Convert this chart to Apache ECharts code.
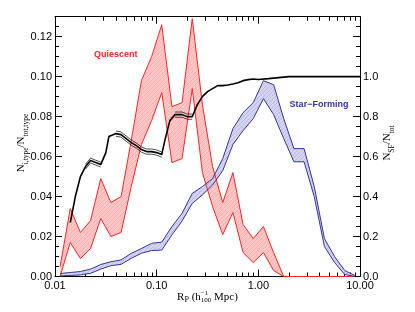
<!DOCTYPE html>
<html><head><meta charset="utf-8">
<script src="https://cdn.jsdelivr.net/npm/echarts@6/dist/echarts.min.js"></script>
<style>html,body{margin:0;padding:0;background:#fff}#c{width:415px;height:312px}</style>
</head><body><div id="c"></div>
<script>
// ---- data ----
const rp = [0.01122,0.01413,0.01778,0.02239,0.02818,0.03548,0.04467,0.05623,0.07079,0.08913,
            0.1122,0.1413,0.1778,0.2239,0.2818,0.3548,0.4467,0.5623,0.7079,0.8913,
            1.122,1.413,1.778,2.239,2.818,3.548,4.467,5.623,7.079,8.913];
const quiHi = [0.005,0.034,0.022,0.028,0.049,0.037,0.040,0.068,0.098,0.110,
               0.126,0.085,0.087,0.129,0.086,0.055,0.037,0.052,0.026,0.019,
               0.025,0.012,0,0,0,0,0,0,0,0];
const quiLo = [0.000,0.017,0.009,0.014,0.029,0.020,0.022,0.045,0.066,0.078,
               0.092,0.057,0.059,0.094,0.052,0.035,0.021,0.032,0.012,0.007,
               0.012,0.003,0,0,0,0,0,0,0,0];
const sfHi = [0.0015,0.0020,0.0025,0.0037,0.0060,0.0074,0.0083,0.0116,0.0140,0.0166,
              0.0172,0.0250,0.0316,0.0416,0.0450,0.0490,0.0590,0.0740,0.0820,0.0870,
              0.0980,0.0960,0.0790,0.0640,0.0640,0.0450,0.0190,0.0100,0.0030,0.0005];
const sfLo = [0.0003,0.0005,0.0008,0.0016,0.0037,0.0054,0.0061,0.0091,0.0116,0.0130,
              0.0132,0.0208,0.0278,0.0366,0.0408,0.0458,0.0530,0.0660,0.0730,0.0790,
              0.0890,0.0810,0.0690,0.0574,0.0574,0.0400,0.0150,0.0070,0.0010,0.0000];
const fracR = [0.01413,0.01585,0.01778,0.01995,0.02239,0.02512,0.02818,0.03162,0.03388,0.03981,
               0.04467,0.05012,0.05623,0.06310,0.07079,0.07943,0.08913,0.1000,0.1122,0.1202,
               0.1349,0.1514,0.1778,0.1995,0.2239,0.2512,0.2818,0.3162,0.3548,0.3981,
               0.4467,0.5012,0.5623,0.6310,0.7079,0.7943,0.8913,1.000,1.259,1.585,1.995,10.0];
const fracSF = [0.27,0.40,0.50,0.55,0.58,0.57,0.56,0.62,0.70,0.715,
                0.71,0.69,0.67,0.655,0.635,0.625,0.625,0.62,0.61,0.68,
                0.78,0.81,0.81,0.80,0.80,0.86,0.90,0.925,0.94,0.955,
                0.955,0.958,0.963,0.97,0.98,0.985,0.988,0.986,0.99,0.995,1.0,1.0];
// thin error tube around the fraction curve (null where not drawn)
const fracHi = [null,null,null,0.562,0.592,0.582,0.572,null,null,0.728,
                0.723,0.703,0.683,0.668,0.648,0.638,0.638,0.633,0.623,null,
                null,0.823,0.823,0.813,0.813,null,null,null,null,null,
                null,null,null,null,null,null,null,null,null,null,null,null];
const fracLo = [null,null,null,0.538,0.568,0.558,0.548,null,null,0.702,
                0.697,0.677,0.657,0.642,0.622,0.612,0.612,0.607,0.597,null,
                null,0.797,0.797,0.787,0.787,null,null,null,null,null,
                null,null,null,null,null,null,null,null,null,null,null,null];
const yLeftLabels = [0,0.02,0.04,0.06,0.08,0.10,0.12];
const yRightTicks = [0,0.2,0.4,0.6,0.8,1.0,1.2];
const yRightLabels = [0,0.2,0.4,0.6,0.8,1.0];

// ---- tick helper lists (log10 positions for the decade / minor ticks) ----
const xMajorLog = [-2,-1,0,1];
const xMinorLog = [];
for (let d=-2; d<=0; d++) for (let k=2; k<=9; k++) xMinorLog.push(d + Math.log10(k));
const yLeftMinor = []; for (let i=1;i<=25;i++) if (i%4) yLeftMinor.push(+(i*0.005).toFixed(4));
const yRightMinor = []; for (let i=1;i<=25;i++) if (i%4) yRightMinor.push(+(i*0.05).toFixed(3));

function hatch(bg, fg) {
  const c = document.createElement('canvas'); c.width = 4; c.height = 4;
  const g = c.getContext('2d'); g.fillStyle = bg; g.fillRect(0,0,4,4);
  g.strokeStyle = fg; g.lineWidth = 0.7;
  g.beginPath(); g.moveTo(-1,5); g.lineTo(5,-1); g.stroke();
  return c;
}
const redFill = hatch('#ffc6c6', '#ffa2a2');
const blueFill = hatch('#cacaea', '#9c9cd2');

function band(hi, lo, img, op, z) {
  return { type:'custom', xAxisIndex:0, yAxisIndex:0, silent:true, z:z, clip:true,
    data:[[rp[0], lo[0]]],
    renderItem:(params, api) => {
      const pts = [];
      for (let i=0;i<rp.length;i++) pts.push(api.coord([rp[i], hi[i]]));
      for (let i=rp.length-1;i>=0;i--) pts.push(api.coord([rp[i], lo[i]]));
      return { type:'polygon', shape:{points:pts}, style:{fill:{image:img, repeat:'repeat'}, opacity:op} };
    } };
}
function line(xs, vals, color, w, yIdx, z) {
  return { type:'line', xAxisIndex:0, yAxisIndex:yIdx, data: xs.map((x,i)=>[x, vals[i]]),
    symbol:'none', silent:true, z:z, lineStyle:{color:color, width:w}, clip:true, connectNulls:false };
}

const RED = '#ff2424', BLUE = '#3434a2';
const tickFont = {fontFamily:'"Liberation Sans", Arial, sans-serif', fontSize:11, color:'#000'};
const noSplit = {show:false};
const tk = (len, vals) => ({show:true, inside:true, length:len, customValues:vals, lineStyle:{color:'#000', width:1}});

const chart = echarts.init(document.getElementById('c'), null, {renderer:'canvas'});
const G = {left:55, right:55, top:16.7, bottom:35.5};

// bottom title pieces laid out with measured widths
const mctx = document.createElement('canvas').getContext('2d');
function tw(t, s){ mctx.font = s+'px "Liberation Serif"'; return mctx.measureText(t).width; }
const segs = [['R',11,0,false],['P',8,3,false],[' (h',11,0,false],['\u22121',7,-4,true],['100',7,3,false],[' Mpc)',11,0,false]];
let total = 0; segs.forEach(s => { if (!s[3]) total += tw(s[0], s[1]); });
let cx = 207.5 - total/2; const xTitle = [];
segs.forEach(s => {
  xTitle.push({type:'text', x:cx, y:297+s[2], style:{text:s[0], fontSize:s[1], fontFamily:'"Liberation Serif"', fill:'#000', verticalAlign:'middle', align:'left'}});
  if (!s[3]) cx += tw(s[0], s[1]);
});

const option = {
  animation:false,
  grid: G,
  xAxis: [
    {type:'log', logBase:10, min:0.01, max:10, position:'bottom',
     axisLine:{show:true, onZero:false, lineStyle:{color:'#000', width:1}},
     axisTick:{show:true, inside:true, length:7, lineStyle:{color:'#000'}},
     axisLabel:Object.assign({margin:4, formatter:v=>v.toFixed(2)}, tickFont), splitLine:noSplit},
    {type:'value', min:-2, max:1, position:'bottom', axisLine:{show:false, onZero:false},
     axisTick:tk(4, xMinorLog), axisLabel:{show:false}, splitLine:noSplit},
    {type:'value', min:-2, max:1, position:'top', axisLine:{show:true, onZero:false, lineStyle:{color:'#000'}},
     axisTick:tk(7, xMajorLog), axisLabel:{show:false}, splitLine:noSplit},
    {type:'value', min:-2, max:1, position:'top', axisLine:{show:false, onZero:false},
     axisTick:tk(4, xMinorLog), axisLabel:{show:false}, splitLine:noSplit}
  ],
  yAxis: [
    {type:'value', min:0, max:0.13, position:'left',
     axisLine:{show:true, onZero:false, lineStyle:{color:'#000'}},
     axisTick:tk(7, yLeftLabels),
     axisLabel:Object.assign({margin:3, customValues:yLeftLabels, formatter:v=>v.toFixed(2)}, tickFont),
     splitLine:noSplit},
    {type:'value', min:0, max:0.13, position:'left', axisLine:{show:false, onZero:false},
     axisTick:tk(4, yLeftMinor), axisLabel:{show:false}, splitLine:noSplit},
    {type:'value', min:0, max:1.3, position:'right',
     axisLine:{show:true, onZero:false, lineStyle:{color:'#000'}},
     axisTick:tk(7, yRightTicks),
     axisLabel:Object.assign({margin:3, customValues:yRightLabels, formatter:v=>v.toFixed(1)}, tickFont),
     splitLine:noSplit},
    {type:'value', min:0, max:1.3, position:'right', axisLine:{show:false, onZero:false},
     axisTick:tk(4, yRightMinor), axisLabel:{show:false}, splitLine:noSplit}
  ],
  series: [
    band(quiHi, quiLo, redFill, 1, 1),
    band(sfHi, sfLo, blueFill, 0.8, 2),
    line(rp, quiHi, RED, 1, 0, 3),
    line(rp, quiLo, RED, 1, 0, 3),
    line(rp, sfHi, BLUE, 1, 0, 3),
    line(rp, sfLo, BLUE, 1, 0, 3),
    line(fracR, fracSF, '#000', 1.6, 2, 4),
    line(fracR, fracHi, '#000', 0.7, 2, 4),
    line(fracR, fracLo, '#000', 0.7, 2, 4)
  ],
  graphic: [
    {type:'text', x:115.7, y:55, style:{text:'Quiescent', fontSize:9, fontWeight:'bold', fontFamily:'"Liberation Sans", Arial', fill:RED, align:'center', verticalAlign:'middle'}},
    {type:'text', x:319, y:104.5, style:{text:'Star\u2212Forming', fontSize:9, fontWeight:'bold', fontFamily:'"Liberation Sans", Arial', fill:BLUE, align:'center', verticalAlign:'middle'}},
    {type:'text', x:21, y:143, rotation:Math.PI/2,
     style:{text:'{n|N}{s|i,type}{n|/N}{s|tot,type}', align:'center', verticalAlign:'middle', fill:'#000',
       rich:{n:{fontSize:11, fontFamily:'"Liberation Serif"', lineHeight:18, verticalAlign:'middle'},
             s:{fontSize:7.5, fontFamily:'"Liberation Serif"', lineHeight:18, verticalAlign:'bottom'}}}},
    {type:'text', x:387, y:143, rotation:Math.PI/2,
     style:{text:'{n|N}{s|SF}{n|/N}{s|tot}', align:'center', verticalAlign:'middle', fill:'#000',
       rich:{n:{fontSize:11, fontFamily:'"Liberation Serif"', lineHeight:18, verticalAlign:'middle'},
             s:{fontSize:7.5, fontFamily:'"Liberation Serif"', lineHeight:18, verticalAlign:'bottom'}}}}
  ].concat(xTitle)
};
chart.setOption(option);
</script>
</body></html>
